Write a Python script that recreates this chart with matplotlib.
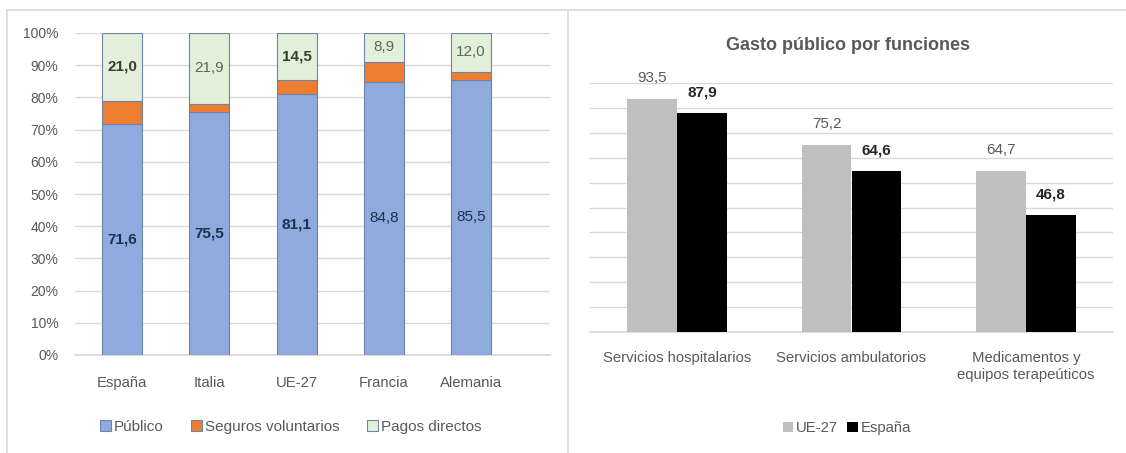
import matplotlib.pyplot as plt
from matplotlib.lines import Line2D
import numpy as np

plt.rcParams['font.family'] = ['Liberation Sans', 'DejaVu Sans']

# left chart: financing structure (%)
paises = ['España', 'Italia', 'UE-27', 'Francia', 'Alemania']
publico = [71.6, 75.5, 81.1, 84.8, 85.5]
pagos_directos = [21.0, 21.9, 14.5, 8.9, 12.0]
seguros = [100 - p - d for p, d in zip(publico, pagos_directos)]
publico_bold = [True, True, True, False, False]
pagos_bold = [True, False, True, False, False]

# right chart: public spending by function
funciones = ['Servicios hospitalarios', 'Servicios ambulatorios',
             'Medicamentos y\nequipos terapeúticos']
ue27 = [93.5, 75.2, 64.7]
espana = [87.9, 64.6, 46.8]

GRIS = '#595959'
GRID = '#d9d9d9'
FS = 10.7

fig = plt.figure(figsize=(11.26, 4.53), dpi=100)

# panel borders
for xs, ys in [([7 / 1126, 1], [443 / 453, 443 / 453]),
               ([7 / 1126, 7 / 1126], [0, 443 / 453]),
               ([568 / 1126, 568 / 1126], [0, 443 / 453])]:
    fig.add_artist(Line2D(xs, ys, color=GRID, lw=1.2))

# ---------- left ----------
ax1 = fig.add_axes([75 / 1126, 98 / 453, 475 / 1126, 322 / 453])
x = np.arange(len(paises))
w = 0.46
edge = '#6f83a8'
ax1.bar(x, publico, w, color='#8faadc', edgecolor=edge, lw=0.8, label='Público', zorder=3)
ax1.bar(x, seguros, w, bottom=publico, color='#ed7d31', edgecolor=edge, lw=0.8,
        label='Seguros voluntarios', zorder=3)
bot2 = [p + s for p, s in zip(publico, seguros)]
ax1.bar(x, pagos_directos, w, bottom=bot2, color='#e2efda', edgecolor=edge, lw=0.8,
        label='Pagos directos', zorder=3)

for i in range(len(paises)):
    ax1.text(x[i], publico[i] / 2, f'{publico[i]:.1f}'.replace('.', ','),
             ha='center', va='center', fontsize=11, color='#1f3050',
             fontweight='bold' if publico_bold[i] else 'normal', zorder=4)
    ax1.text(x[i], bot2[i] + pagos_directos[i] / 2, f'{pagos_directos[i]:.1f}'.replace('.', ','),
             ha='center', va='center', fontsize=11,
             color='#33402a' if pagos_bold[i] else '#5c6b4f',
             fontweight='bold' if pagos_bold[i] else 'normal', zorder=4)

ax1.set_xlim(-0.54, 4.905)
ax1.set_ylim(0, 100)
ax1.set_yticks(range(0, 101, 10))
ax1.set_yticklabels([f'{v}%' for v in range(0, 101, 10)])
ax1.set_xticks(x)
ax1.set_xticklabels(paises)
ax1.yaxis.grid(True, color=GRID, lw=1, zorder=0)
ax1.axhline(0, color=GRID, lw=1.2, zorder=2, clip_on=False)
for s in ax1.spines.values():
    s.set_visible(False)
ax1.tick_params(length=0, colors=GRIS, labelsize=FS)
ax1.tick_params(axis='y', labelsize=10)
ax1.tick_params(axis='x', pad=15)
ax1.tick_params(axis='y', pad=12)
ax1.legend(loc='center', bbox_to_anchor=(291 / 1126, 26 / 453), bbox_transform=fig.transFigure,
           ncol=3, frameon=False, fontsize=11, labelcolor=GRIS, handlelength=0.7,
           handleheight=0.7, handletextpad=0.2, columnspacing=1.8)

# ---------- right ----------
ax2 = fig.add_axes([590 / 1126, 121 / 453, 523 / 1126, 249 / 453])
xr = np.arange(len(funciones))
wr = 0.285
ax2.bar(xr - wr / 2, ue27, wr, color='#bfbfbf', label='UE-27', zorder=3)
ax2.bar(xr + wr / 2, espana, wr, color='#000000', label='España', zorder=3)
for i in range(len(funciones)):
    ax2.annotate(f'{ue27[i]:.1f}'.replace('.', ','), (xr[i] - wr / 2, ue27[i]),
                 xytext=(0, 10), textcoords='offset points', ha='center', va='bottom',
                 fontsize=11, color=GRIS)
    ax2.annotate(f'{espana[i]:.1f}'.replace('.', ','), (xr[i] + wr / 2, espana[i]),
                 xytext=(0, 10), textcoords='offset points', ha='center', va='bottom',
                 fontsize=11, color='#262626', fontweight='bold')
ax2.set_xlim(-0.5, 2.5)
ax2.set_ylim(0, 100)
ax2.set_yticks(range(0, 101, 10))
ax2.set_yticklabels([])
ax2.set_xticks(xr)
ax2.set_xticklabels(funciones)
ax2.yaxis.grid(True, color=GRID, lw=1, zorder=0)
ax2.axhline(0, color=GRID, lw=1.2, zorder=2, clip_on=False)
for s in ax2.spines.values():
    s.set_visible(False)
ax2.tick_params(length=0, colors=GRIS, labelsize=FS)
ax2.tick_params(axis='x', pad=14)
fig.text(848 / 1126, (453 - 45) / 453, 'Gasto público por funciones', ha='center', va='center',
         fontsize=13, fontweight='bold', color=GRIS)
ax2.legend(loc='center', bbox_to_anchor=(847 / 1126, 25 / 453), bbox_transform=fig.transFigure,
           ncol=2, frameon=False, fontsize=FS, labelcolor=GRIS, handlelength=0.7,
           handleheight=0.7, handletextpad=0.2, columnspacing=0.6)

fig.savefig('out.png', dpi=100)
